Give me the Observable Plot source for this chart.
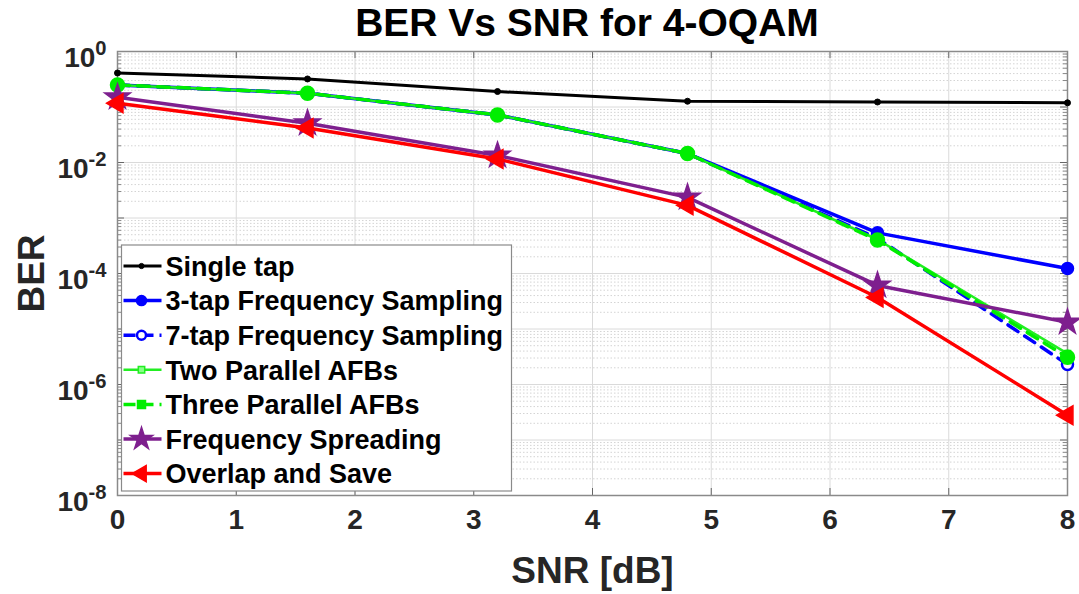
<!DOCTYPE html>
<html>
<head>
<meta charset="utf-8">
<script src="https://cdn.jsdelivr.net/npm/d3@7"></script>
<script src="https://cdn.jsdelivr.net/npm/@observablehq/plot@0.6"></script>
<style>
  html, body { margin: 0; padding: 0; background: #fff; }
  #chart svg { display: block; }
</style>
</head>
<body>
<div id="chart"></div>
<script>
// ---- data ----
const snr = [0, 1.6, 3.2, 4.8, 6.4, 8];
const singleTap   = [0.41, 0.32, 0.19, 0.127, 0.123, 0.119];
const tap3        = [0.25, 0.177, 0.072, 0.0145, 5.4e-4, 1.23e-4];
const tap7        = [0.25, 0.177, 0.072, 0.0145, 4.3e-4, 2.3e-6];
const twoAFB      = [0.25, 0.177, 0.072, 0.0145, 4.1e-4, 3.6e-6];
const threeAFB    = [0.25, 0.177, 0.072, 0.0145, 4.0e-4, 3.1e-6];
const freqSpread  = [0.15, 0.051, 0.0134, 2.35e-3, 6.1e-5, 1.32e-5];
const overlapSave = [0.117, 0.042, 0.0116, 1.69e-3, 3.7e-5, 2.8e-7];
const seriesNames = ["Single tap", "3-tap Frequency Sampling", "7-tap Frequency Sampling",
  "Two Parallel AFBs", "Three Parallel AFBs", "Frequency Spreading", "Overlap and Save"];
const xTicks = [0, 1, 2, 3, 4, 5, 6, 7, 8];
const yMajor = [1, 1e-2, 1e-4, 1e-6, 1e-8];
const yDecades = [1e-8, 1e-7, 1e-6, 1e-5, 1e-4, 1e-3, 1e-2, 1e-1, 1];
const minorMult = [2, 3, 4, 5, 6, 7, 8, 9];
const titleText = "BER Vs SNR for 4-OQAM";
const xLabel = "SNR [dB]";
const yLabel = "BER";

// ---- styles ----
const values = [singleTap, tap3, tap7, twoAFB, threeAFB, freqSpread, overlapSave];
const styles = [
  {color: "#000000", width: 3,   dash: null,   symbol: "circle",   r: 3,   fill: "#000000", sw: 1,   leg: "circle", lr: 2.6},
  {color: "#0000ff", width: 3.5, dash: null,   symbol: "circle",   r: 6,   fill: "#0000ff", sw: 1.5, leg: "circle", lr: 5},
  {color: "#0000ff", width: 3.5, dash: "12,8", symbol: "circle",   r: 5.5, fill: "#ffffff", sw: 2.5, leg: "circle", lr: 4.5},
  {color: "#22ee22", width: 2.5, dash: null,   symbol: "square",   r: 3.5, fill: "#88ff88", sw: 1.5, leg: "square", lr: 3.2},
  {color: "#00ee00", width: 3.5, dash: "12,8", symbol: "circle",   r: 7,   fill: "#00ee00", sw: 1.5, leg: "square", lr: 4},
  {color: "#7e1f8e", width: 3.5, dash: null,   symbol: "star",     r: 8,   fill: "#7e1f8e", sw: 1.5, leg: "star",   lr: 7},
  {color: "#ff0000", width: 3.5, dash: null,   symbol: "triangle", r: 7,   fill: "#ff0000", sw: 1.5, leg: "triangle", lr: 6}
];

const W = 1079, H = 594;
const mT = 51, mB = 99, mL = 117, mR = 12;
const fW = W - mL - mR, fH = H - mT - mB;
const FONT = "'Liberation Sans', Arial, Helvetica, sans-serif";

const rows = [];
seriesNames.forEach((name, i) => {
  snr.forEach((x, j) => rows.push({series: name, idx: i, snr: x, ber: values[i][j]}));
});
const yMinor = yDecades.slice(0, -1).flatMap(d => minorMult.map(m => d * m));

const marks = [
  Plot.gridY(yMinor, {stroke: "#d4d4d4", strokeOpacity: 1, strokeDasharray: "1.5,2", strokeWidth: 1}),
  Plot.gridY(yDecades, {stroke: "#dadada", strokeOpacity: 1, strokeWidth: 1}),
  Plot.gridX(xTicks, {stroke: "#dadada", strokeOpacity: 1, strokeWidth: 1}),
  // inward ticks
  Plot.tickX(xTicks, {x: d => d, insetTop: fH - 7, stroke: "#666"}),
  Plot.tickX(xTicks, {x: d => d, insetBottom: fH - 7, stroke: "#666"}),
  Plot.tickY(yDecades, {y: d => d, insetRight: fW - 7, stroke: "#666"}),
  Plot.tickY(yDecades, {y: d => d, insetLeft: fW - 7, stroke: "#666"}),
  Plot.tickY(yMinor, {y: d => d, insetRight: fW - 4, stroke: "#888"}),
  Plot.tickY(yMinor, {y: d => d, insetLeft: fW - 4, stroke: "#888"}),
  Plot.frame({stroke: "#8a8a8a", strokeWidth: 1.5}),
  Plot.axisX({ticks: xTicks, tickSize: 0, tickPadding: 14, fontSize: 28, label: null, fill: "#262626"}),
  Plot.axisY({ticks: yMajor, tickSize: 0, tickPadding: 11, fontSize: 28, label: null, fill: "#262626",
              tickFormat: d => String(Math.round(Math.log10(d)))}),
];
styles.forEach((s, i) => {
  const data = rows.filter(r => r.idx === i);
  marks.push(Plot.line(data, {x: "snr", y: "ber", stroke: s.color, strokeWidth: s.width,
    strokeDasharray: s.dash || undefined, strokeLinejoin: "round"}));
  marks.push(Plot.dot(data, {x: "snr", y: "ber", symbol: s.symbol, r: s.r, fill: s.fill,
    stroke: s.color, strokeWidth: s.sw, rotate: s.symbol === "triangle" ? -90 : 0}));
});
marks.push(Plot.text([xLabel], {frameAnchor: "bottom", dy: 87, textAnchor: "middle", fontSize: 37, fontWeight: "bold", fill: "#262626"}));
marks.push(Plot.text([yLabel], {frameAnchor: "left", dx: -85, textAnchor: "middle", rotate: -90, fontSize: 37, fontWeight: "bold", fill: "#262626"}));

const chart = Plot.plot({
  width: W, height: H,
  marginTop: mT, marginBottom: mB, marginLeft: mL, marginRight: mR,
  x: {domain: [0, 8]},
  y: {type: "log", domain: [1e-8, 1]},
  style: {fontFamily: FONT, fontWeight: "bold", background: "#fff", overflow: "visible"},
  marks
});
document.getElementById("chart").appendChild(chart);

const svg = d3.select(chart);
// superscript exponents on y tick labels
svg.selectAll('g[aria-label="y-axis tick label"] text').each(function () {
  const e = this.textContent;
  const t = d3.select(this);
  t.text(null).attr("dy", "0.25em");
  t.append("tspan").text("10");
  t.append("tspan").attr("dy", "-0.62em").attr("font-size", "0.72em").text(e);
});

// title
svg.append("text").attr("x", mL + fW / 2 - 5).attr("y", 36).attr("text-anchor", "middle")
  .attr("font-size", 39).attr("font-weight", "bold").attr("fill", "#000").text(titleText);

// legend
const lg = svg.append("g").attr("font-family", FONT).attr("font-weight", "bold").attr("text-anchor", "start");
const lx = 121.5, ly = 245, lw = 390, lh = 246;
lg.append("rect").attr("x", lx).attr("y", ly).attr("width", lw).attr("height", lh)
  .attr("fill", "#fff").attr("stroke", "#8a8a8a").attr("stroke-width", 1.2);
const sym = {circle: d3.symbolCircle, square: d3.symbolSquare, star: d3.symbolStar, triangle: d3.symbolTriangle};
seriesNames.forEach((name, i) => {
  const s = styles[i];
  const y = ly + 21 + i * 34.6;
  lg.append("line").attr("x1", lx + 2).attr("x2", lx + 40).attr("y1", y).attr("y2", y)
    .attr("stroke", s.color).attr("stroke-width", s.width).attr("stroke-dasharray", s.dash ? "12,6" : null);
  const area = s.leg === "square" ? 4 * s.lr * s.lr : Math.PI * s.lr * s.lr;
  lg.append("path").attr("d", d3.symbol(sym[s.leg], area)())
    .attr("transform", `translate(${lx + 20},${y})` + (s.leg === "triangle" ? " rotate(-90)" : ""))
    .attr("fill", s.fill).attr("stroke", s.color).attr("stroke-width", s.sw);
  lg.append("text").attr("x", lx + 44).attr("y", y).attr("dy", "0.36em").attr("text-anchor", "start")
    .attr("font-size", 27).attr("fill", "#000").text(name);
});
</script>
</body>
</html>
